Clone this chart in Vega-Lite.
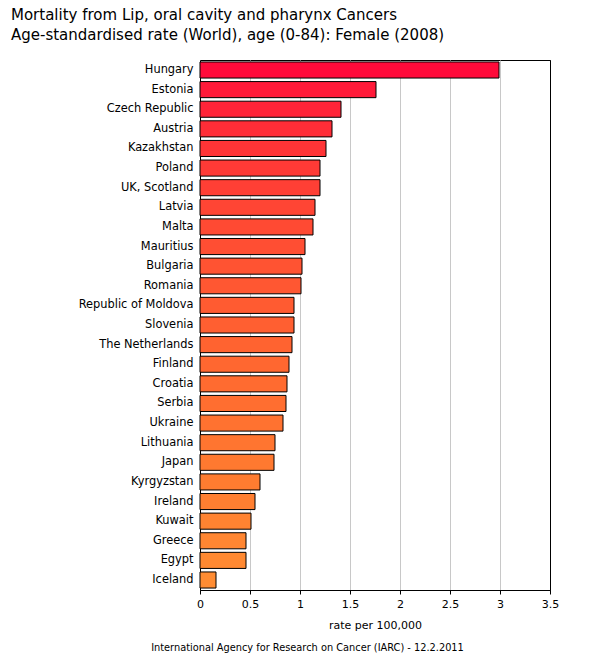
{
  "$schema": "https://vega.github.io/schema/vega-lite/v6.json",
  "autosize": "none",
  "width": 350,
  "height": 530,
  "padding": {"left": 200, "top": 60, "right": 50, "bottom": 70},
  "background": "white",
  "title": {
    "text": ["Mortality from Lip, oral cavity and pharynx Cancers", "Age-standardised rate (World), age (0-84): Female (2008)"],
    "anchor": "start",
    "frame": "group",
    "dx": -189,
    "offset": 17,
    "font": "DejaVu Sans",
    "fontSize": 15,
    "fontWeight": "normal",
    "color": "#000000",
    "lineHeight": 20
  },
  "data": {
    "values": [
      {"rank": 1, "country": "Hungary", "rate": 2.99},
      {"rank": 2, "country": "Estonia", "rate": 1.76},
      {"rank": 3, "country": "Czech Republic", "rate": 1.41},
      {"rank": 4, "country": "Austria", "rate": 1.32},
      {"rank": 5, "country": "Kazakhstan", "rate": 1.26},
      {"rank": 6, "country": "Poland", "rate": 1.2},
      {"rank": 7, "country": "UK, Scotland", "rate": 1.2},
      {"rank": 8, "country": "Latvia", "rate": 1.15},
      {"rank": 9, "country": "Malta", "rate": 1.13},
      {"rank": 10, "country": "Mauritius", "rate": 1.05},
      {"rank": 11, "country": "Bulgaria", "rate": 1.02},
      {"rank": 12, "country": "Romania", "rate": 1.01},
      {"rank": 13, "country": "Republic of Moldova", "rate": 0.94},
      {"rank": 14, "country": "Slovenia", "rate": 0.94},
      {"rank": 15, "country": "The Netherlands", "rate": 0.92},
      {"rank": 16, "country": "Finland", "rate": 0.89},
      {"rank": 17, "country": "Croatia", "rate": 0.87},
      {"rank": 18, "country": "Serbia", "rate": 0.86},
      {"rank": 19, "country": "Ukraine", "rate": 0.83},
      {"rank": 20, "country": "Lithuania", "rate": 0.75},
      {"rank": 21, "country": "Japan", "rate": 0.74},
      {"rank": 22, "country": "Kyrgyzstan", "rate": 0.6},
      {"rank": 23, "country": "Ireland", "rate": 0.55},
      {"rank": 24, "country": "Kuwait", "rate": 0.51},
      {"rank": 25, "country": "Greece", "rate": 0.46},
      {"rank": 26, "country": "Egypt", "rate": 0.46},
      {"rank": 27, "country": "Iceland", "rate": 0.16}
    ]
  },
  "mark": {"type": "bar", "stroke": "#000000", "strokeWidth": 1},
  "encoding": {
    "y": {
      "field": "country",
      "type": "nominal",
      "sort": {"field": "rank", "op": "min", "order": "ascending"},
      "scale": {"paddingInner": 0.18, "paddingOuter": 0.1},
      "axis": {
        "title": "International Agency for Research on Cancer (IARC) - 12.2.2011",
        "titleAngle": 0,
        "titleX": 107,
        "titleY": 587,
        "titleAlign": "center",
        "titleBaseline": "middle",
        "titleFont": "DejaVu Sans",
        "titleFontSize": 9.8,
        "titleFontWeight": "normal",
        "titleColor": "#000000",
        "ticks": false,
        "labelPadding": 7,
        "labelFont": "DejaVu Sans",
        "labelFontSize": 11.4,
        "labelColor": "#000000",
        "domainColor": "#000000",
        "grid": false
      }
    },
    "x": {
      "field": "rate",
      "type": "quantitative",
      "scale": {"domain": [0, 3.5], "nice": false},
      "axis": {
        "title": "rate per 100,000",
        "values": [0, 0.5, 1, 1.5, 2, 2.5, 3, 3.5],
        "format": "~g",
        "titleFont": "DejaVu Sans",
        "titleFontSize": 11,
        "titleFontWeight": "normal",
        "titleColor": "#000000",
        "titlePadding": 10,
        "labelFont": "DejaVu Sans",
        "labelFontSize": 11,
        "labelColor": "#000000",
        "labelPadding": 4,
        "tickColor": "#000000",
        "tickSize": 4,
        "domainColor": "#000000",
        "gridColor": {"condition": {"test": "datum.value === 3.5", "value": "#000000"}, "value": "#c8c8c8"},
        "labelFlush": false
      }
    },
    "color": {
      "field": "rank",
      "type": "quantitative",
      "scale": {"range": ["#ff0a3a", "#ff8c33"]},
      "legend": null
    }
  },
  "config": {
    "view": {"stroke": "#000000", "strokeWidth": 1}
  }
}
